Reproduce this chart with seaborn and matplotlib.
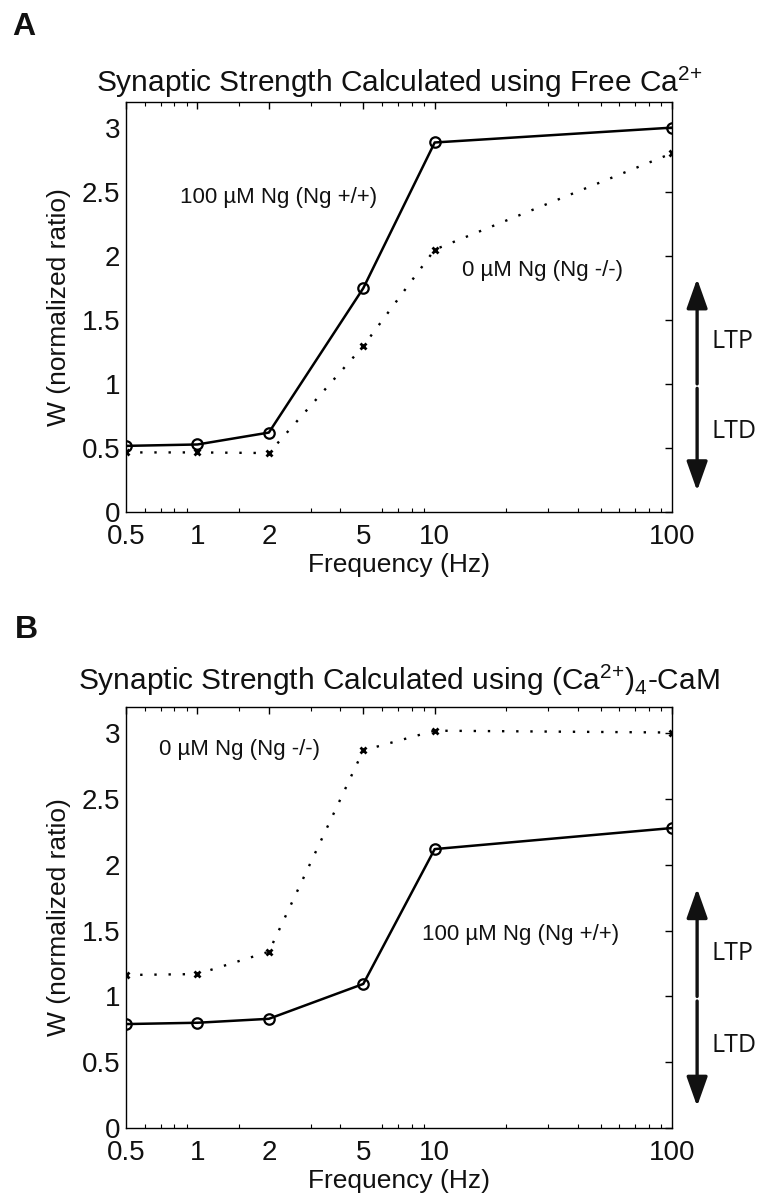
import numpy as np
import pandas as pd
import matplotlib
matplotlib.use("Agg")
import matplotlib.pyplot as plt
import matplotlib.transforms as mtransforms
from matplotlib.ticker import FixedLocator, NullFormatter, FixedFormatter
import seaborn as sns

# ---------------- data ----------------
freq = [0.5, 1, 2, 5, 10, 100]
xtick_vals = [0.5, 1, 2, 5, 10, 100]
xtick_labels = ["0.5", "1", "2", "5", "10", "100"]
xminor_vals = [0.6, 0.7, 0.8, 0.9, 1.5, 3, 4, 6, 7, 8, 9,
               20, 30, 40, 50, 60, 70, 80, 90]
ytick_vals = [0, 0.5, 1, 1.5, 2, 2.5, 3]
ytick_labels = ["0", "0.5", "1", "1.5", "2", "2.5", "3"]

# Panel A: free Ca2+
a_ng100 = [0.516, 0.527, 0.62, 1.747, 2.884, 3.00]
a_ng0 = [0.465, 0.465, 0.46, 1.295, 2.048, 2.80]
# Panel B: (Ca2+)4-CaM
b_ng100 = [0.79, 0.80, 0.83, 1.095, 2.12, 2.28]
b_ng0 = [1.163, 1.17, 1.34, 2.87, 3.02, 3.006]

titles = [r"Synaptic Strength Calculated using Free Ca$^{2{+}}$",
          r"Synaptic Strength Calculated using (Ca$^{2{+}}$)$_{4}$-CaM"]
lab_100 = "100 \u00b5M Ng (Ng +/+)"
lab_0 = "0 \u00b5M Ng (Ng -/-)"
# annotation positions (x, y in data units)
ann_A = [(0.845, 2.456, lab_100), (12.97, 1.885, lab_0)]
ann_B = [(0.686, 2.874, lab_0), (8.87, 1.468, lab_100)]

# ---------------- style ----------------
sns.set_style("white")
plt.rcParams["font.family"] = ["Liberation Sans", "DejaVu Sans"]
plt.rcParams["mathtext.fontset"] = "custom"
plt.rcParams["mathtext.rm"] = "Liberation Sans"
plt.rcParams["mathtext.it"] = "Liberation Sans:italic"
plt.rcParams["mathtext.bf"] = "Liberation Sans:bold"

W, H = 759, 1197
fig = plt.figure(figsize=(W / 100, H / 100), dpi=100)

def px_axes(left, right, top, bottom):
    return fig.add_axes([left / W, 1 - bottom / H, (right - left) / W, (bottom - top) / H])

axA = px_axes(126, 672, 102, 512)
axB = px_axes(126, 672, 707, 1128)

panels = [
    (axA, a_ng100, a_ng0, ann_A, titles[0], 7),
    (axB, b_ng100, b_ng0, ann_B, titles[1], 12),
]

TXT = "#111111"
for i, (ax, s100, s0, anns, title, tpad) in enumerate(panels):
    df = pd.DataFrame({"freq": freq, "ng100": s100, "ng0": s0})
    sns.lineplot(data=df, x="freq", y="ng100", ax=ax, color="black",
                 linewidth=1.8, marker="o", markersize=7.5,
                 markerfacecolor="none", markeredgecolor="black",
                 markeredgewidth=1.6, zorder=3)
    sns.lineplot(data=df, x="freq", y="ng0", ax=ax, color="black",
                 linewidth=1.7, linestyle=(0, (1, 5)), marker="x",
                 markersize=4.5, markeredgecolor="black",
                 markeredgewidth=2.0, zorder=3)
    ax.set_xscale("log")
    ax.set_xlim(0.5, 100)
    ax.set_ylim(0, 3.2)
    ax.xaxis.set_major_locator(FixedLocator(xtick_vals))
    ax.xaxis.set_major_formatter(FixedFormatter(xtick_labels))
    ax.xaxis.set_minor_locator(FixedLocator(xminor_vals))
    ax.xaxis.set_minor_formatter(NullFormatter())
    ax.yaxis.set_major_locator(FixedLocator(ytick_vals))
    ax.yaxis.set_major_formatter(FixedFormatter(ytick_labels))
    ax.tick_params(axis="both", which="major", direction="in", length=5,
                   width=1, top=True, right=True, labelsize=20, color="black",
                   labelcolor=TXT)
    ax.tick_params(axis="x", which="minor", direction="in", length=3,
                   width=0.8, top=True, bottom=True, color="black")
    ax.tick_params(axis="x", which="major", pad=9)
    ax.tick_params(axis="y", which="major", pad=4)
    for sp in ax.spines.values():
        sp.set_visible(True)
        sp.set_color("black")
        sp.set_linewidth(1.0)
    ax.set_xlabel("Frequency (Hz)", fontsize=19, color=TXT, labelpad=2)
    ax.set_ylabel("W (normalized ratio)", fontsize=19, color=TXT)
    ax.yaxis.set_label_coords(-0.10, 0.5)
    ax.set_title(title, fontsize=21.5, color=TXT, pad=tpad)
    for (xx, yy, txt) in anns:
        ax.text(xx, yy, txt, fontsize=16, ha="left", va="center", color=TXT)

    trans = mtransforms.blended_transform_factory(ax.transAxes, ax.transData)
    arrow_x = 1.046
    ap = dict(arrowstyle="-|>,head_length=0.9,head_width=0.32", lw=2.4,
              color=TXT, mutation_scale=20, shrinkA=0, shrinkB=0)
    ax.annotate("", xy=(arrow_x, 1.82), xytext=(arrow_x, 1.0),
                xycoords=trans, textcoords=trans, arrowprops=ap,
                annotation_clip=False)
    ax.annotate("", xy=(arrow_x, 0.165), xytext=(arrow_x, 0.965),
                xycoords=trans, textcoords=trans, arrowprops=ap,
                annotation_clip=False)
    ax.text(1.073, 1.33, "LTP", transform=trans, fontsize=18, ha="left",
            va="center", family=["Open Sans", "DejaVu Sans"], color=TXT)
    ax.text(1.073, 0.63, "LTD", transform=trans, fontsize=18, ha="left",
            va="center", family=["Open Sans", "DejaVu Sans"], color=TXT)

fig.text(12 / W, 1 - 35 / H, "A", fontsize=23, fontweight="bold",
         ha="left", va="baseline", color=TXT)
fig.text(15 / W, 1 - 638 / H, "B", fontsize=23, fontweight="bold",
         ha="left", va="baseline", color=TXT)

fig.savefig("out.png", dpi=100)
